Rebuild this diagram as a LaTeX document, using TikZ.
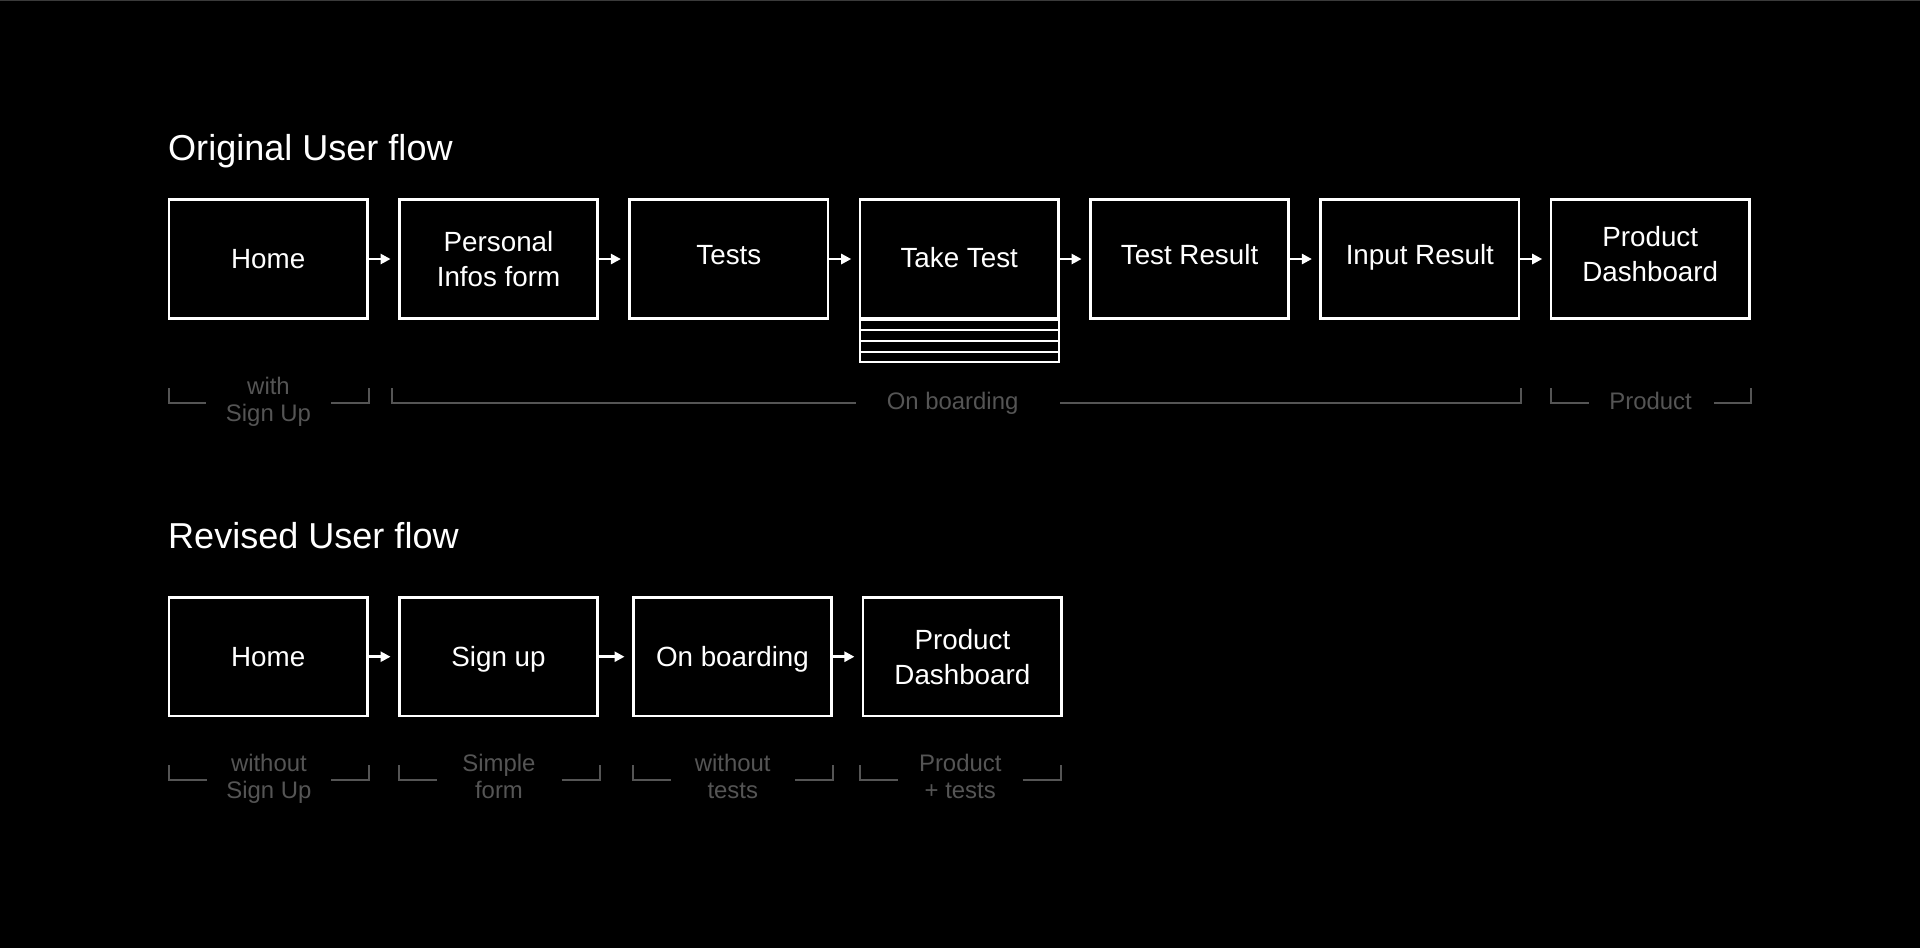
\documentclass[tikz,border=0pt]{standalone}
\usepackage{fontspec}
\setmainfont{Liberation Sans}
\usetikzlibrary{arrows.meta, positioning}
\definecolor{muted}{HTML}{555555}
\definecolor{edge}{HTML}{3A3A3A}

\begin{document}
\begin{tikzpicture}[x=0.01cm, y=-0.01cm, >={Triangle[length=1mm, width=1mm]},
    screen/.style={draw=white, line width=0.25mm, minimum width=19.83mm, minimum height=11.87mm, inner sep=0pt, align=center, text=white, font=\fontsize{7.9pt}{10pt}\selectfont},
    raised/.style={text depth=0.9mm},
    flow/.style={->, white, line width=0.25mm, shorten >=0.75mm},
    strip/.style={draw=white, line width=0.2mm},
    bracket/.style={muted, line width=0.2mm},
    note/.style={text=muted, align=center, inner sep=0pt, text depth=0.5mm, font=\fontsize{6.8pt}{7.8pt}\selectfont},
    heading/.style={text=white, inner sep=0pt, anchor=base west, font=\fontsize{10.25pt}{12pt}\selectfont}]

  \useasboundingbox (0,0) rectangle (1920,947);
  \fill[black] (-10,-10) rectangle (1930,957);
  \draw[edge, line width=0.1mm] (0,0.5) -- (1920,0.5);

  % original flow
  \node[heading] (title1) at (167.5,160) {Original User flow};
  \node[screen] (home1) at (268.2,259) {Home};
  \node[screen, right=2.94mm of home1] (info1) {Personal\\Infos form};
  \node[screen, raised, right=2.94mm of info1] (tests1) {Tests};
  \node[screen, text depth=0.4mm, right=2.94mm of tests1] (take1) {Take Test};
  \node[screen, raised, right=2.94mm of take1] (result1) {Test Result};
  \node[screen, raised, right=2.94mm of result1] (input1) {Input Result};
  \node[screen, text depth=1mm, right=2.94mm of input1] (dash1) {Product\\Dashboard};

  \foreach \tb in {1.05mm, 2.15mm, 3.2mm, 4.2mm}
    \draw[strip] ([xshift=0.1mm]take1.south west) rectangle ([xshift=-0.1mm, yshift=-\tb]take1.south east);

  \foreach \a/\b in {home1/info1, info1/tests1, tests1/take1, take1/result1, result1/input1, input1/dash1}
    \draw[flow] (\a) -- (\b);

  \draw[bracket] (168.8,388) -- (168.8,402.5) -- (206,402.5);
  \draw[bracket] (331,402.5) -- (369,402.5) -- (369,388);
  \node[note] (note1) at (268.5,402) {with\\Sign Up};

  \draw[bracket] (392,388) -- (392,402.5) -- (856,402.5);
  \draw[bracket] (1060,402.5) -- (1520.5,402.5) -- (1520.5,388);
  \node[note] (note2) at (952.6,403) {On boarding};

  \draw[bracket] (1550.8,388) -- (1550.8,402.5) -- (1589,402.5);
  \draw[bracket] (1714,402.5) -- (1750.5,402.5) -- (1750.5,388);
  \node[note] (note3) at (1650.6,403.5) {Product};

  % revised flow
  \node[heading] (title2) at (167.5,548.3) {Revised User flow};
  \node[screen] (home2) at (268.2,656.7) {Home};
  \node[screen, text depth=0pt, right=2.94mm of home2] (signup2) {Sign up};
  \node[screen, text depth=0pt, right=3.3mm of signup2] (onboard2) {On boarding};
  \node[screen, right=2.9mm of onboard2] (dash2) {Product\\Dashboard};

  \foreach \a/\b in {home2/signup2, signup2/onboard2, onboard2/dash2}
    \draw[flow] (\a) -- (\b);

  \foreach \xa/\xb/\txt [count=\i] in {168.8/369/{without\\Sign Up}, 398.5/599.5/{Simple\\form}, 632.5/833/{without\\tests}, 860/1060.5/{Product\\+ tests}} {
    \draw[bracket] (\xa,765) -- (\xa,780) -- (\xa+38,780);
    \draw[bracket] (\xb-38,780) -- (\xb,780) -- (\xb,765);
    \node[note] (sub\i) at ({(\xa+\xb)/2},779) {\txt};
  }
\end{tikzpicture}
\end{document}
